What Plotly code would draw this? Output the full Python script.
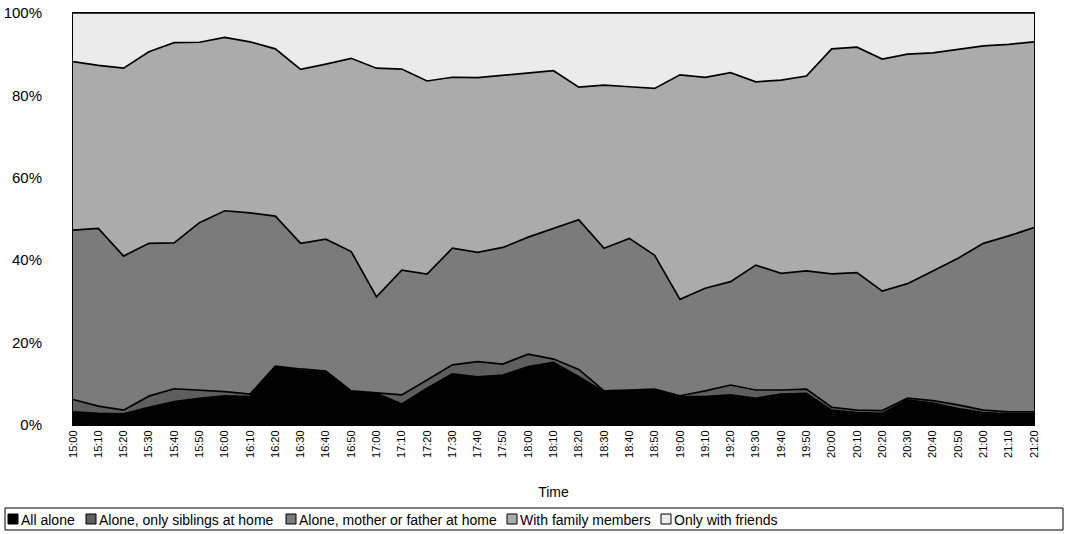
import plotly.graph_objects as go

times = ["15:00", "15:10", "15:20", "15:30", "15:40", "15:50", "16:00", "16:10", "16:20", "16:30",
         "16:40", "16:50", "17:00", "17:10", "17:20", "17:30", "17:40", "17:50", "18:00", "18:10",
         "18:20", "18:30", "18:40", "18:50", "19:00", "19:10", "19:20", "19:30", "19:40", "19:50",
         "20:00", "20:10", "20:20", "20:30", "20:40", "20:50", "21:00", "21:10", "21:20"]

all_alone = [3.2, 2.8, 2.7, 4.3, 5.7, 6.5, 7.1, 6.9, 14.1, 13.2,
             12.7, 8.1, 7.7, 5.1, 8.9, 12.4, 11.7, 12.1, 14.2, 15.2,
             11.7, 8.1, 8.3, 8.5, 6.9, 6.9, 7.3, 6.5, 7.5, 7.7,
             3.6, 3.0, 2.8, 6.1, 5.3, 4.0, 3.0, 2.7, 2.7]

siblings = [3.0, 1.8, 0.9, 2.7, 3.1, 2.0, 1.0, 0.6, 0.2, 0.4,
            0.4, 0.2, 0.1, 2.2, 2.0, 2.2, 3.7, 2.7, 3.0, 0.8,
            1.8, 0.2, 0.2, 0.2, 0.2, 1.4, 2.4, 2.0, 1.0, 1.0,
            0.7, 0.6, 0.7, 0.4, 0.6, 0.9, 0.6, 0.5, 0.5]

parent = [41.1, 43.1, 37.4, 37.1, 35.4, 40.6, 43.9, 44.0, 36.4, 30.5,
          32.0, 33.8, 23.3, 30.3, 25.7, 28.3, 26.5, 28.3, 28.4, 31.7,
          36.3, 34.6, 36.8, 32.5, 23.4, 24.9, 25.1, 30.3, 28.3, 28.7,
          32.4, 33.4, 29.0, 27.8, 31.4, 35.6, 40.5, 42.7, 44.7]

family = [40.9, 39.6, 45.6, 46.5, 48.6, 43.8, 42.1, 41.5, 40.6, 42.2,
          42.5, 46.9, 55.5, 48.8, 46.9, 41.5, 42.4, 41.8, 39.8, 38.3,
          32.2, 39.6, 36.8, 40.5, 54.5, 51.2, 50.7, 44.5, 46.9, 47.3,
          54.6, 54.7, 56.3, 55.7, 53.0, 50.7, 47.9, 46.5, 45.1]

friends = [11.8, 12.7, 13.4, 9.4, 7.2, 7.1, 5.9, 7.0, 8.7, 13.7,
           12.4, 11.0, 13.4, 13.6, 16.5, 15.6, 15.7, 15.1, 14.6, 14.0,
           18.0, 17.5, 17.9, 18.3, 15.0, 15.6, 14.5, 16.7, 16.3, 15.3,
           8.7, 8.3, 11.2, 10.0, 9.7, 8.8, 8.0, 7.6, 7.0]

series_names = ["All alone", "Alone, only siblings at home", "Alone, mother or father at home",
                "With family members", "Only with friends"]
series_values = [all_alone, siblings, parent, family, friends]
series_colors = ["#000000", "#5e5e5e", "#7b7b7b", "#ababab", "#ebebeb"]

FONT = "Liberation Sans, Arial, sans-serif"

W, H = 1066, 534
L, R, T, B = 73, 32, 13, 109
PW, PH = W - L - R, H - T - B


def px(x):
    return (x - L) / PW


def py(y):
    return (H - B - y) / PH


fig = go.Figure()
for name, vals, col in zip(series_names, series_values, series_colors):
    fig.add_trace(go.Scatter(
        x=times, y=vals, name=name, mode="lines",
        stackgroup="one", groupnorm="percent",
        line=dict(color="#000000", width=1.7),
        fillcolor=col, showlegend=False,
    ))

# legend drawn manually (boxed, single row)
shapes = [dict(type="rect", xref="paper", yref="paper",
               x0=px(5), x1=px(1063), y0=py(530), y1=py(508),
               line=dict(color="#000000", width=1), fillcolor="rgba(0,0,0,0)")]
annotations = []
swatch_x = [8, 86, 286, 507, 661]
for sx, name, col in zip(swatch_x, series_names, series_colors):
    shapes.append(dict(type="rect", xref="paper", yref="paper",
                       x0=px(sx), x1=px(sx + 10), y0=py(524), y1=py(514),
                       line=dict(color="#000000", width=1), fillcolor=col))
    annotations.append(dict(xref="paper", yref="paper", x=px(sx + 11), y=py(519.5),
                            xanchor="left", yanchor="middle", showarrow=False,
                            text=name, font=dict(family=FONT, size=14, color="#000000")))

fig.update_layout(
    width=W, height=H,
    margin=dict(l=L, r=R, t=T, b=B, autoexpand=False),
    paper_bgcolor="white", plot_bgcolor="white",
    font=dict(family=FONT, color="#000000", size=14),
    showlegend=False,
    xaxis=dict(
        type="category", range=[0, len(times) - 1], automargin=False,
        tickangle=-90, tickfont=dict(size=11),
        showgrid=False, showline=True, linecolor="#000000", mirror=True,
        ticks="", title=dict(text="Time", font=dict(size=14), standoff=30),
    ),
    yaxis=dict(
        range=[0, 100], tickvals=[0, 20, 40, 60, 80, 100], automargin=False,
        ticktext=["0%", "20%", "40%", "60%", "80%", "100%"],
        showgrid=False, showline=True, linecolor="#000000", mirror=True,
        ticks="", tickfont=dict(size=15), zeroline=False, ticklabelstandoff=27,
    ),
    shapes=shapes,
    annotations=annotations,
)

fig.write_html("out.html", config={"displayModeBar": False},
               post_script="document.body.style.margin='0';document.body.style.padding='0';")
